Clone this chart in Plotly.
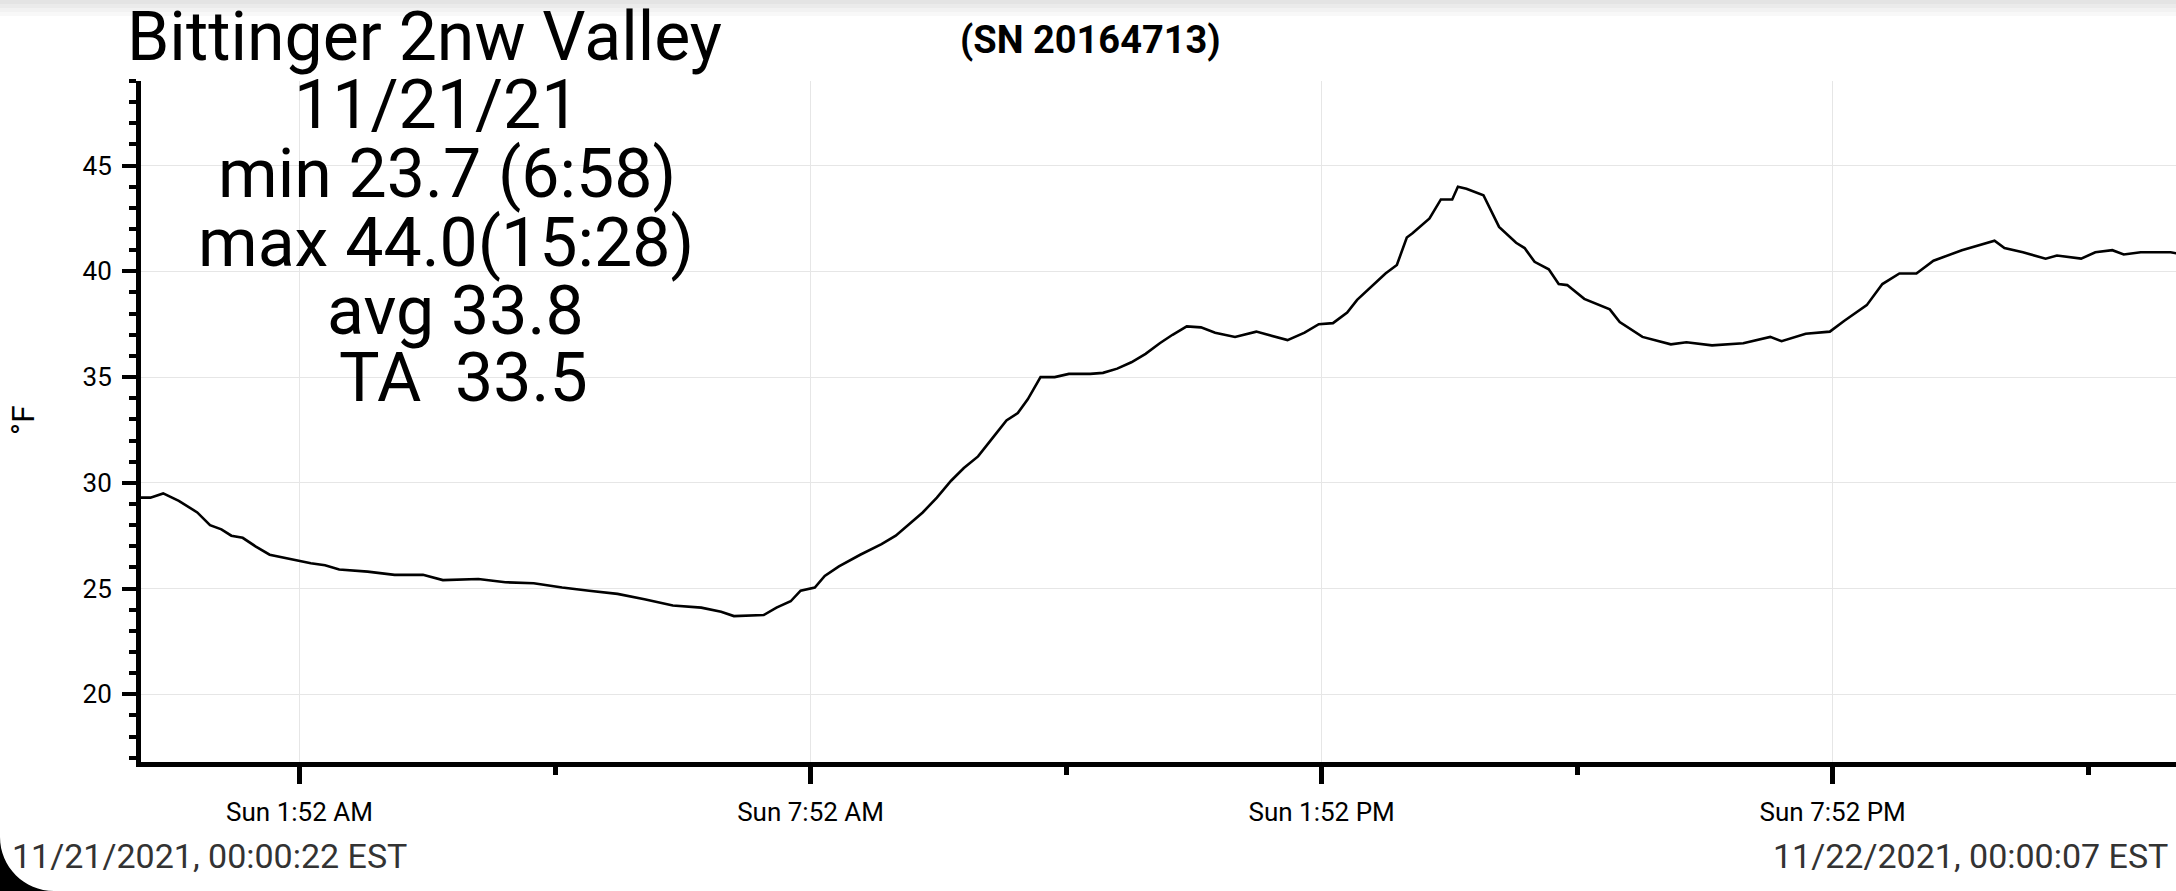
import plotly.graph_objects as go

# readings from the logger plot, 11/21/2021
times = [
    "00:00:22", "00:07", "00:16", "00:27", "00:40", "00:49", "00:57", "01:04",
    "01:12", "01:21", "01:31", "01:41", "01:51", "02:00", "02:10", "02:20",
    "02:40", "02:59", "03:19", "03:33", "03:58", "04:17", "04:37", "04:57",
    "05:16", "05:36", "05:55", "06:15", "06:35", "06:49", "06:58", "07:19",
    "07:28", "07:38", "07:45", "07:55", "08:02", "08:12", "08:27", "08:42",
    "08:52", "09:01", "09:11", "09:21", "09:31", "09:40", "09:50", "10:00",
    "10:10", "10:18", "10:25", "10:34", "10:44", "10:54", "11:09", "11:18",
    "11:28", "11:38", "11:48", "11:58", "12:07", "12:17", "12:27", "12:37",
    "12:51", "13:06", "13:21", "13:28", "13:40", "13:50", "14:00", "14:10",
    "14:17", "14:29", "14:37", "14:45", "14:52", "14:56", "15:08", "15:16",
    "15:24", "15:28", "15:34", "15:46", "15:51", "15:57", "16:09", "16:15",
    "16:22", "16:32", "16:39", "16:45", "16:57", "17:15", "17:22", "17:38",
    "17:58", "18:09", "18:27", "18:49", "19:08", "19:16", "19:33", "19:50",
    "20:00", "20:16", "20:27", "20:39", "20:51", "21:03", "21:23", "21:46",
    "21:53", "22:06", "22:22", "22:30", "22:47", "22:57", "23:09", "23:17",
    "23:29", "23:50", "23:59",
]
temps_f = [
    29.3, 29.3, 29.5, 29.15, 28.6, 28.0, 27.8, 27.5,
    27.4, 27.0, 26.6, 26.45, 26.3, 26.2, 26.1, 25.9,
    25.8, 25.65, 25.65, 25.4, 25.45, 25.3, 25.25, 25.05,
    24.9, 24.75, 24.5, 24.2, 24.1, 23.9, 23.7, 23.75,
    24.1, 24.4, 24.9, 25.05, 25.6, 26.05, 26.6, 27.1,
    27.5, 28.0, 28.6, 29.3, 30.1, 30.7, 31.25, 32.1,
    32.95, 33.3, 33.95, 35.0, 35.0, 35.15, 35.15, 35.2,
    35.4, 35.7, 36.1, 36.6, 37.0, 37.4, 37.35, 37.1,
    36.9, 37.15, 36.9, 36.75, 37.1, 37.5, 37.55, 38.05,
    38.65, 39.4, 39.9, 40.3, 41.6, 41.8, 42.5, 43.4,
    43.4, 44.0, 43.9, 43.6, 42.9, 42.1, 41.35, 41.1,
    40.45, 40.1, 39.4, 39.35, 38.7, 38.2, 37.6, 36.9,
    36.55, 36.65, 36.5, 36.6, 36.9, 36.7, 37.05, 37.15,
    37.65, 38.4, 39.4, 39.9, 39.9, 40.5, 41.0, 41.45,
    41.1, 40.9, 40.6, 40.75, 40.6, 40.9, 41.0, 40.8,
    40.9, 40.9, 40.8,
]

day = "2021-11-21"
x_start = day + " 00:00:22"
x_end = day + " 23:53:50"

tick_vals = [day + " 01:52", day + " 07:52", day + " 13:52", day + " 19:52"]
tick_text = ["Sun 1:52 AM", "Sun 7:52 AM", "Sun 1:52 PM", "Sun 7:52 PM"]
minor_vals = [day + " 04:52", day + " 10:52", day + " 16:52", day + " 22:52"]

title_text = "Bittinger 2nw Valley"
stats_lines = ["11/21/21", "min 23.7 (6:58)", "max 44.0(15:28)", "avg 33.8",
               "TA\u00a0\u00a033.5"]
serial_text = "(SN 20164713)"
start_label = "11/21/2021, 00:00:22 EST"
end_label = "11/22/2021, 00:00:07 EST"

W, H = 2176, 891
L, R, T, B = 141, 0, 81, 129
PW, PH = W - L - R, H - T - B


def px(x):
    return (x - L) / PW


def py(y):
    return (H - B - y) / PH


FONT = "Roboto"

fig = go.Figure()
fig.add_trace(go.Scatter(
    x=[day + " " + t for t in times],
    y=temps_f,
    mode="lines",
    line=dict(color="black", width=2.6),
    hoverinfo="skip",
))

annos = [
    dict(text=title_text, x=px(424), y=py(37), font=dict(size=68)),
    dict(text=serial_text, x=px(1090), y=py(40), font=dict(size=38, weight="bold")),
    dict(text="°F", x=px(23), y=py(420), font=dict(size=32), textangle=-90),
]
stats_pos = [(436, 105), (447, 174), (446, 243), (455, 311), (463, 378)]
for line, (cx, cy) in zip(stats_lines, stats_pos):
    annos.append(dict(text=line, x=px(cx), y=py(cy), font=dict(size=68)))
for a in annos:
    a.update(xref="paper", yref="paper", showarrow=False,
             xanchor="center", yanchor="middle")
    a["font"].update(family=FONT, color="black")

annos.append(dict(text=start_label, x=px(10), y=py(856), xref="paper", yref="paper",
                  showarrow=False, xanchor="left", yanchor="middle",
                  font=dict(family=FONT, size=34, color="#333333")))
annos.append(dict(text=end_label, x=px(2170), y=py(856), xref="paper", yref="paper",
                  showarrow=False, xanchor="right", yanchor="middle",
                  font=dict(family=FONT, size=34, color="#333333")))

shapes = []
# light shadow along the top edge
for y0, y1, col in [(0, 4, "#e4e4e4"), (4, 8, "#ebebeb"), (8, 12, "#f2f2f2"), (12, 16, "#f8f8f8")]:
    shapes.append(dict(type="rect", xref="paper", yref="paper",
                       x0=px(0), x1=px(W), y0=py(y1), y1=py(y0),
                       fillcolor=col, line=dict(width=0), layer="below"))
# rounded screen corner bottom-left
r = 54
path = "M {},{} C {},{} {},{} {},{} L {},{} Z".format(
    px(0), py(H - r), px(0), py(H - r + 0.552 * r), px(r - 0.552 * r), py(H),
    px(r), py(H), px(0), py(H))
shapes.append(dict(type="path", xref="paper", yref="paper", path=path,
                   fillcolor="black", line=dict(width=0)))

fig.update_layout(
    width=W, height=H,
    margin=dict(l=L, r=R, t=T, b=B),
    paper_bgcolor="white", plot_bgcolor="white",
    showlegend=False,
    font=dict(family=FONT, color="black"),
    annotations=annos,
    shapes=shapes,
    xaxis=dict(
        type="date", range=[x_start, x_end],
        tickmode="array", tickvals=tick_vals, ticktext=tick_text,
        ticks="outside", ticklen=17, tickwidth=5, tickcolor="black",
        tickfont=dict(family=FONT, size=26, color="black"),
        ticklabelstandoff=6,
        showline=True, linewidth=5, linecolor="black",
        showgrid=True, gridcolor="#e6e6e6", gridwidth=1.3,
        zeroline=False,
        minor=dict(tickmode="array", tickvals=minor_vals, ticks="outside",
                   ticklen=8, tickwidth=5, tickcolor="black", showgrid=False),
    ),
    yaxis=dict(
        range=[16.8, 49.0],
        tickmode="linear", tick0=20, dtick=5,
        ticks="outside", ticklen=14, tickwidth=4, tickcolor="black",
        tickfont=dict(family=FONT, size=26, color="black"),
        ticklabelstandoff=5,
        showline=True, linewidth=5, linecolor="black",
        showgrid=True, gridcolor="#e6e6e6", gridwidth=1.3,
        zeroline=False,
        minor=dict(dtick=1, tick0=20, ticks="outside", ticklen=7, tickwidth=4,
                   tickcolor="black", showgrid=False),
    ),
)

# page body has a default 8px margin; drop it so the figure fills the window
fig.write_html("out.html", config={"displayModeBar": False},
               post_script="document.body.style.margin='0';"
                           "document.body.style.overflow='hidden';")
